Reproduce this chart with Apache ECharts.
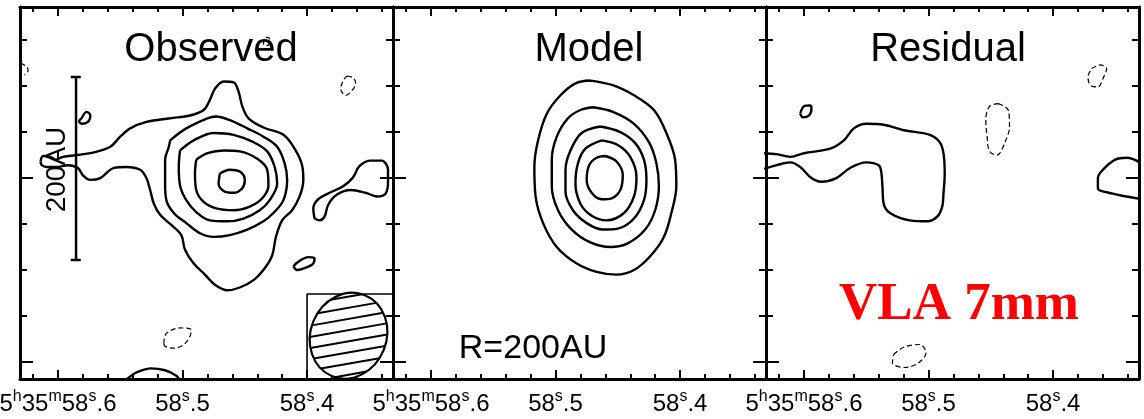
<!DOCTYPE html>
<html>
<head>
<meta charset="utf-8">
<script src="https://cdn.jsdelivr.net/npm/echarts@6/dist/echarts.min.js"></script>
<style>
  html, body { margin: 0; padding: 0; background: #fff; }
  #chart { width: 1144px; height: 419px; }
</style>
</head>
<body>
<div id="chart"></div>
<script>
// x: RA offset from 58.5s in ms of time (east = left), y: Dec offset in 0.01"
var raTicksMinor = [120, 100, 80, 60, 40, 20, 0, -20, -40, -60, -80, -100, -120, -140, -160]
var raTicksMajor = [100, 0, -100]
var raTickLabels = ['{n|5}{u|h}{n|35}{u|m}{n|58}{u|s}{n|.6}', '{n|58}{u|s}{n|.5}', '{n|58}{u|s}{n|.4}']
var decTicksMinor = [150, 100, 50, 0, -50, -100, -150, -200]
var decTicksMajor = [0, -200]
var panelTitles = ['Observed', 'Model', 'Residual']

// Observed
var obsLevel1 = [[114,18],[112,24],[106,23],[102,20],[96,23],[85,25],[71,28],[58,34],[50,45],[42,54],[29,61],[10,65],[-6,68],[-17,74],[-22,85],[-26,97],[-33,105],[-41,104],[-45,94],[-48,78],[-53,65],[-65,55],[-81,47],[-90,32],[-96,14],[-97,-2],[-94,-20],[-88,-35],[-80,-46],[-75,-64],[-72,-84],[-66,-98],[-57,-111],[-46,-119],[-36,-122],[-26,-116],[-18,-105],[-9,-93],[-2,-78],[1,-62],[9,-51],[18,-40],[23,-28],[26,-13],[29,0],[34,9],[45,12],[55,11],[66,0],[74,-2],[80,3],[84,11],[92,14],[101,12],[109,12],[113,14]]
var obsLevel2 = [[10,41],[-3,54],[-20,65],[-27,67],[-38,63],[-52,54],[-65,45],[-76,34],[-82,16],[-84,-2],[-81,-24],[-73,-38],[-65,-47],[-52,-56],[-38,-62],[-25,-64],[-14,-60],[-3,-49],[7,-38],[13,-24],[14,-6],[14,20],[11,34]]
var obsLevel3 = [[2,30],[-9,41],[-25,49],[-41,47],[-57,39],[-68,29],[-74,12],[-76,-6],[-70,-24],[-62,-35],[-49,-44],[-36,-47],[-22,-46],[-11,-37],[-3,-24],[2,-8],[3,12]]
var obsLevel4 = [[-11,20],[-20,27],[-33,30],[-46,29],[-60,21],[-68,9],[-69,-8],[-64,-22],[-54,-31],[-41,-35],[-27,-33],[-17,-26],[-11,-13],[-10,5]]
var obsLevel5 = [[-30,5],[-38,9],[-46,7],[-50,-2],[-48,-11],[-41,-16],[-33,-14],[-29,-6]]
var obsKnotNW = [[81,65],[77,72],[74,68],[76,61],[81,59],[83,62]]
var obsEast = [[-106,-44],[-105,-33],[-109,-23],[-118,-16],[-129,-9],[-137,1],[-142,13],[-151,19],[-160,19],[-165,9],[-165,-4],[-163,-17],[-156,-20],[-147,-16],[-135,-13],[-124,-18],[-117,-29],[-114,-42],[-110,-46]]
var obsKnotSE = [[-89,-96],[-93,-91],[-101,-86],[-106,-87],[-105,-93],[-98,-98],[-92,-100]]
var obsSouth = [[46,-220],[38,-212],[26,-207],[14,-209],[5,-215],[2,-220]]
var obsNeg1 = [[-132,111],[-137,109],[-139,103],[-136,95],[-131,90],[-127,97],[-129,106]]
var obsNeg2 = [[15,-180],[13,-169],[2,-163],[-7,-165],[-6,-172],[-1,-181],[7,-185],[14,-183]]
var obsNeg3 = [[130,125],[125,121],[124,117],[127,112]]
var obsNeg4 = [[-65,145],[-66,152],[-69,153],[-70,148],[-68,144]]

// Model
var modLevel1 = [[-28,106],[-46,101],[-63,90],[-79,74],[-89,49],[-96,20],[-97,-9],[-93,-38],[-87,-64],[-76,-85],[-63,-100],[-49,-105],[-33,-102],[-17,-93],[-1,-75],[10,-49],[16,-20],[17,12],[14,41],[7,70],[-4,90],[-16,103]]
var modLevel2 = [[-30,77],[-46,72],[-63,59],[-75,39],[-81,16],[-83,-9],[-80,-35],[-72,-56],[-58,-71],[-44,-75],[-28,-70],[-13,-56],[-2,-35],[3,-9],[3,20],[-1,45],[-10,65],[-20,74]]
var modLevel3 = [[-36,56],[-52,50],[-64,38],[-71,20],[-73,-2],[-71,-24],[-63,-44],[-50,-55],[-38,-56],[-25,-49],[-14,-35],[-8,-15],[-8,9],[-12,30],[-21,49]]
var modLevel4 = [[-37,41],[-50,36],[-60,23],[-65,1],[-63,-20],[-55,-38],[-41,-46],[-29,-41],[-20,-28],[-16,-6],[-18,16],[-24,32]]
var modLevel5 = [[-40,24],[-49,18],[-54,3],[-52,-13],[-45,-22],[-37,-23],[-29,-16],[-25,-2],[-27,14],[-33,22]]

// Residual
var resLevel1 = [[132,27],[122,26],[111,23],[100,27],[79,32],[68,41],[60,54],[50,59],[36,58],[20,52],[-1,47],[-9,39],[-12,27],[-13,5],[-12,-17],[-11,-31],[-7,-42],[1,-47],[15,-46],[31,-38],[36,-28],[37,-9],[38,7],[40,14],[50,17],[63,11],[74,0],[86,-4],[94,0],[103,12],[111,17],[122,14],[132,10]]
var resKnot = [[103,70],[100,78],[95,79],[94,76],[96,68],[101,66]]
var resEast = [[-171,16],[-159,22],[-150,20],[-140,9],[-136,0],[-136,-11],[-148,-17],[-159,-20],[-171,-23]]
var resNeg1 = [[-131,119],[-138,123],[-143,119],[-140,108],[-136,99],[-130,101],[-128,110]]
var resNeg2 = [[-56,81],[-64,74],[-65,56],[-62,41],[-55,25],[-49,29],[-47,45],[-46,63],[-49,78]]
var resNeg3 = [[28,-192],[20,-184],[7,-181],[2,-190],[8,-201],[19,-206],[29,-201]]

// annotations in the observed panel
var scaleBar = [[85.5,110],[85.5,-89]]
var scaleCapTop = [[89.8,110],[81.7,110]]
var scaleCapBottom = [[89.8,-89],[81.7,-89]]
var beamBox = [[-100,-222],[-100,-126],[-172,-126]]
var beamCenter = [-133.3, -171.4]
var beamMinor = 30.5   // x units
var beamMajor = 47.5   // y units

var xMin = -169, xMax = 130.5, yMin = -218.5, yMax = 186
var panelLefts = [20, 393, 766]

var myChart = echarts.init(document.getElementById('chart'))

function closed(a) { return a.concat([a[0]]) }

var raLabel = {
  show: true,
  customValues: raTicksMajor,
  margin: 10,
  color: '#000',
  fontFamily: 'Liberation Sans',
  formatter: function (v) {
    var k = raTicksMajor.indexOf(Math.round(v))
    return k < 0 ? '' : raTickLabels[k]
  },
  rich: {
    n: { fontSize: 24, lineHeight: 30, fontFamily: 'Liberation Sans', color: '#000' },
    u: { fontSize: 16, lineHeight: 10, verticalAlign: 'top', fontFamily: 'Liberation Sans', color: '#000' }
  }
}

var grids = [], xAxes = [], yAxes = [], series = []

panelLefts.forEach(function (left, i) {
  grids.push({ left: left, top: 7, width: 373, height: 372, containLabel: false, outerBoundsMode: 'none' })
  ;[['bottom', false], ['bottom', true], ['top', false], ['top', true]].forEach(function (p) {
    var major = p[1]
    xAxes.push({
      type: 'value', gridIndex: i, position: p[0], inverse: true, min: xMin, max: xMax,
      axisLine: { show: !major, onZero: false, lineStyle: { color: '#000', width: 3 } },
      axisTick: { show: true, inside: true, length: major ? 9 : 5, customValues: major ? raTicksMajor : raTicksMinor,
        lineStyle: { color: '#000', width: 2 } },
      axisLabel: (p[0] === 'bottom' && major) ? raLabel : { show: false },
      splitLine: { show: false }
    })
  })
  ;[['left', false], ['left', true], ['right', false], ['right', true]].forEach(function (p) {
    var major = p[1]
    yAxes.push({
      type: 'value', gridIndex: i, position: p[0], min: yMin, max: yMax,
      axisLine: { show: !major, onZero: false, lineStyle: { color: '#000', width: 3 } },
      axisTick: { show: true, inside: true, length: major ? 13 : 7, customValues: major ? decTicksMajor : decTicksMinor,
        lineStyle: { color: '#000', width: 2 } },
      axisLabel: { show: false },
      splitLine: { show: false }
    })
  })
})

function addLine(panel, data, opts) {
  opts = opts || {}
  series.push({
    type: 'line', xAxisIndex: panel * 4, yAxisIndex: panel * 4,
    data: data, symbol: 'none', silent: true,
    smooth: opts.smooth === undefined ? 0.35 : opts.smooth,
    lineStyle: { color: '#000', width: opts.width || 2.4, type: opts.dashed ? [5, 3] : 'solid' },
    z: opts.z || 2
  })
}

var dash = { dashed: true, width: 1.2 }

;[obsLevel1, obsLevel2, obsLevel3, obsLevel4, obsLevel5, obsKnotNW, obsEast, obsKnotSE].forEach(function (c) { addLine(0, closed(c)) })
addLine(0, obsSouth, { smooth: 0.2 })
;[obsNeg1, obsNeg2, obsNeg4].forEach(function (c) { addLine(0, closed(c), dash) })
addLine(0, obsNeg3, dash)

;[modLevel1, modLevel2, modLevel3, modLevel4, modLevel5].forEach(function (c) { addLine(1, closed(c)) })

addLine(2, resLevel1)
addLine(2, closed(resKnot))
addLine(2, resEast)
;[resNeg1, resNeg2, resNeg3].forEach(function (c) { addLine(2, closed(c), dash) })

addLine(0, scaleBar, { smooth: false, width: 2.5 })
addLine(0, scaleCapTop, { smooth: false, width: 2.5 })
addLine(0, scaleCapBottom, { smooth: false, width: 2.5 })
addLine(0, beamBox, { smooth: false, width: 1.6 })

// hatched beam ellipse
series.push({
  type: 'custom', xAxisIndex: 0, yAxisIndex: 0, data: [beamCenter], silent: true, z: 4,
  renderItem: function (params, api) {
    var c = api.coord([api.value(0), api.value(1)])
    var rx = api.size([beamMinor, 0])[0]
    var ry = api.size([0, beamMajor])[1]
    var tilt = 22 * Math.PI / 180
    var phi = 10 * Math.PI / 180
    var e1 = [Math.cos(tilt), Math.sin(tilt)], e2 = [-Math.sin(tilt), Math.cos(tilt)]
    var d = [Math.cos(phi), -Math.sin(phi)], nrm = [Math.sin(phi), Math.cos(phi)]
    var children = [{
      type: 'ellipse', shape: { cx: 0, cy: 0, rx: rx, ry: ry }, x: c[0], y: c[1], rotation: -tilt,
      style: { fill: '#fff', stroke: '#000', lineWidth: 2.2 }
    }]
    ;[-38.5, -27.5, -16.5, -5.5, 5.5, 16.5, 27.5, 38.5].forEach(function (s) {
      var a1 = (d[0] * e1[0] + d[1] * e1[1]) / rx, b1 = s * (nrm[0] * e1[0] + nrm[1] * e1[1]) / rx
      var a2 = (d[0] * e2[0] + d[1] * e2[1]) / ry, b2 = s * (nrm[0] * e2[0] + nrm[1] * e2[1]) / ry
      var A = a1 * a1 + a2 * a2, B = 2 * (a1 * b1 + a2 * b2), C = b1 * b1 + b2 * b2 - 1
      var disc = B * B - 4 * A * C
      if (disc <= 0) return
      var t1 = (-B - Math.sqrt(disc)) / (2 * A), t2 = (-B + Math.sqrt(disc)) / (2 * A)
      var ox = c[0] + s * nrm[0], oy = c[1] + s * nrm[1]
      children.push({
        type: 'line',
        shape: { x1: ox + t1 * d[0], y1: oy + t1 * d[1], x2: ox + t2 * d[0], y2: oy + t2 * d[1] },
        style: { stroke: '#000', lineWidth: 2 }
      })
    })
    return { type: 'group', children: children }
  }
})

function label(text, x, y, font, extra) {
  var el = {
    type: 'text', x: x, y: y, silent: true, z: 10,
    style: { text: text, font: font, fill: '#000', align: 'center', verticalAlign: 'middle',
      textAlign: 'center', textVerticalAlign: 'middle' }
  }
  if (extra) {
    for (var k in extra) el[k] = extra[k]
  }
  return el
}

var titleX = [211, 589, 948]
var graphics = panelTitles.map(function (t, i) {
  return label(t, titleX[i], 49.5, '40px "Liberation Sans"')
})
graphics.push(label('R=200AU', 533, 348.5, '34px "Liberation Sans"'))
graphics.push(label('200AU', 57, 169.5, '28px "Liberation Sans"', { rotation: Math.PI / 2 }))
var vla = label('VLA 7mm', 959, 305, 'bold 53px "Liberation Serif"')
vla.style.fill = '#ff0000'
graphics.push(vla)

myChart.setOption({
  animation: false,
  backgroundColor: '#fff',
  grid: grids,
  xAxis: xAxes,
  yAxis: yAxes,
  series: series,
  graphic: graphics
})
</script>
</body>
</html>
